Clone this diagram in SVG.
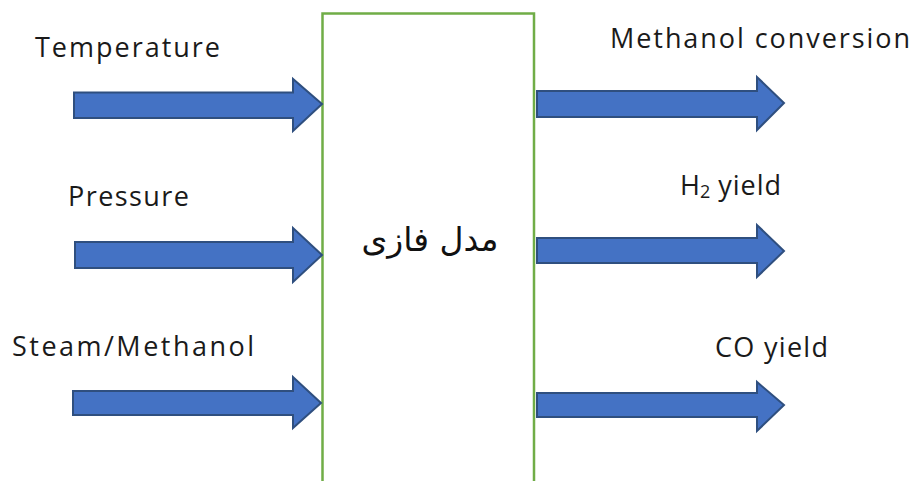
<svg xmlns="http://www.w3.org/2000/svg" width="912" height="481" viewBox="0 0 912 481">
<style>
.arr{fill:#4472C4;stroke:#2F4F7F;stroke-width:2;stroke-linejoin:miter}
.lbl{font-family:"Open Sans","Liberation Sans",sans-serif;font-size:27px;fill:#1a1a1a}
.fa{font-family:"DejaVu Sans","Noto Sans",sans-serif;font-size:33px;fill:#111}
</style>
<rect width="912" height="481" fill="#fff"/>
<g id="model">
<path d="M322.5,495 V13.5 H534 V495" fill="#fff" stroke="#70AD47" stroke-width="2.5"/>
<text class="fa" x="430" y="251" text-anchor="middle" direction="rtl">مدل فازی</text>
</g>
<g id="labels">
<text class="lbl" x="35" y="57" textLength="185" lengthAdjust="spacing">Temperature</text>
<text class="lbl" x="68" y="206" textLength="121" lengthAdjust="spacing">Pressure</text>
<text class="lbl" x="12" y="356" textLength="242" lengthAdjust="spacing">Steam/Methanol</text>
<text class="lbl" x="610" y="48" textLength="300" lengthAdjust="spacing">Methanol conversion</text>
<text class="lbl" x="680" y="195">H<tspan font-size="18" dy="3">2</tspan><tspan dy="-3" letter-spacing="1"> yield</tspan></text>
<text class="lbl" x="715" y="357" textLength="113" lengthAdjust="spacing">CO yield</text>
</g>
<g id="connectors">
<path class="arr" d="M74,92.5 H293 V79 L322,104 L293,131 V118 H74 Z"/>
<path class="arr" d="M75,242 H293 V228 L322,255 L293,282 V268 H75 Z"/>
<path class="arr" d="M73,391 H293 V377 L321,403 L293,428 V415 H73 Z"/>
<path class="arr" d="M537,91 H757 V77 L784,103 L757,130 V117 H537 Z"/>
<path class="arr" d="M537,238 H757 V225 L784,251 L757,277 V263 H537 Z"/>
<path class="arr" d="M537,393 H757 V382 L784,405 L757,431 V417 H537 Z"/>
</g>
</svg>
